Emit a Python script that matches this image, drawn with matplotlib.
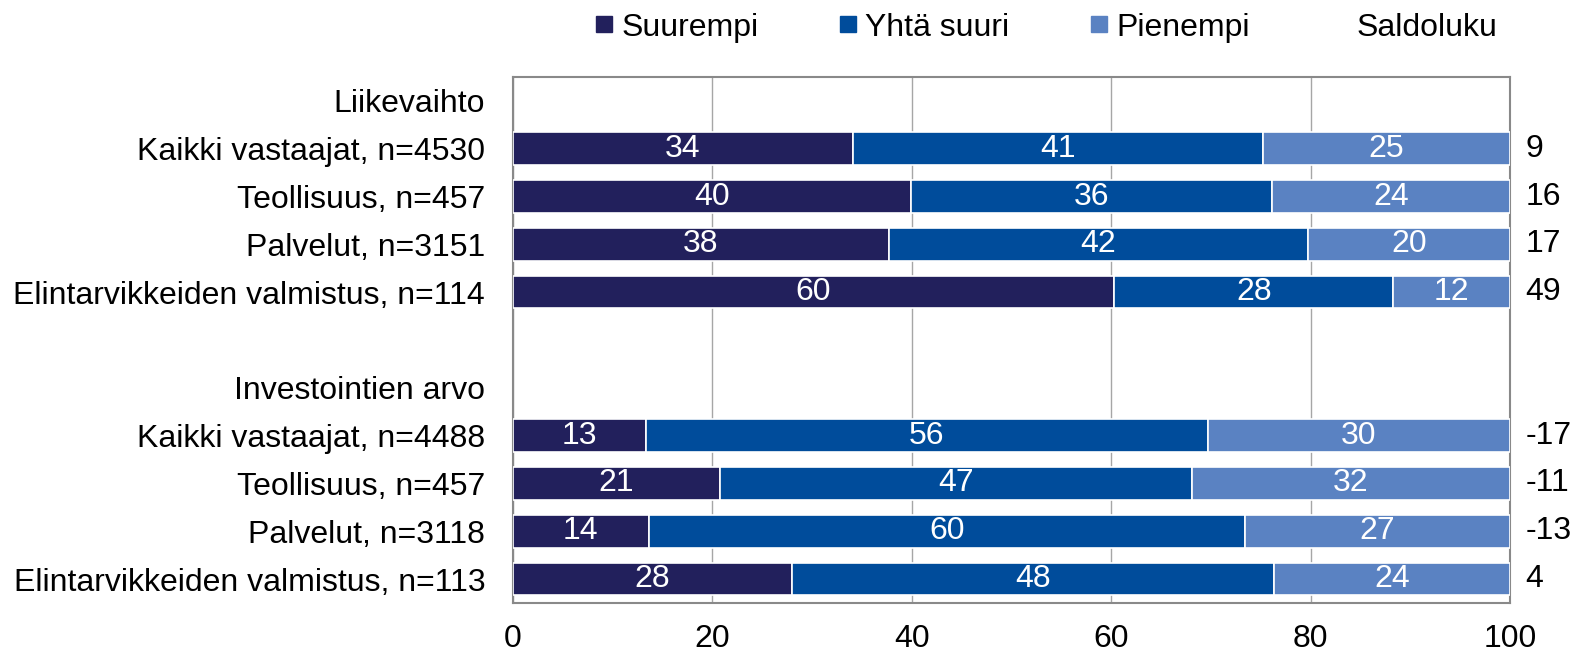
import numpy as np
import matplotlib.pyplot as plt
from matplotlib.lines import Line2D

plt.rcParams['font.family'] = ['Liberation Sans', 'DejaVu Sans']

# Rivit ylhäältä alas (otsikkorivit ja tyhjä väli mukana)
RIVIT = ['Liikevaihto',
         'Kaikki vastaajat, n=4530', 'Teollisuus, n=457', 'Palvelut, n=3151',
         'Elintarvikkeiden valmistus, n=114',
         '',
         'Investointien arvo',
         'Kaikki vastaajat, n=4488', 'Teollisuus, n=457', 'Palvelut, n=3118',
         'Elintarvikkeiden valmistus, n=113']
# Palkkirivien indeksit
PALKKIRIVIT = [1, 2, 3, 4, 7, 8, 9, 10]

SUUREMPI = [34.1, 39.9, 37.7, 60.3, 13.3, 20.8, 13.6, 28.0]
YHTA_SUURI = [41.1, 36.2, 42.0, 28.0, 56.4, 47.3, 59.8, 48.3]
PIENEMPI = [24.8, 23.9, 20.3, 11.7, 30.3, 31.9, 26.6, 23.7]
SALDOLUKU = [9, 16, 17, 49, -17, -11, -13, 4]

SARJAT = ['Suurempi', 'Yhtä suuri', 'Pienempi']
VARIT = ['#22205c', '#004c9b', '#5a82c2']
FS = 23

fig = plt.figure(figsize=(15.74, 6.56), dpi=100)
ax = fig.add_axes([0.3259, 0.0808, 0.6334, 0.8018])

Y = np.array(PALKKIRIVIT)
vasen = np.zeros(len(Y))
for arvot, vari in zip([SUUREMPI, YHTA_SUURI, PIENEMPI], VARIT):
    arvot = np.array(arvot)
    ax.barh(Y, arvot, left=vasen, height=0.68, color=vari,
            edgecolor='white', linewidth=1.2, zorder=3)
    for y, l, v in zip(Y, vasen, arvot):
        ax.text(l + v / 2, y, f'{v:.0f}', ha='center', va='center',
                color='white', fontsize=FS, zorder=4)
    vasen = vasen + arvot

# Saldoluku palkkien oikealle puolelle
for y, s in zip(Y, SALDOLUKU):
    ax.annotate(str(s), xy=(1.0, y), xycoords=('axes fraction', 'data'),
                xytext=(11, 0), textcoords='offset points',
                ha='left', va='center', fontsize=FS)

ax.set_xlim(0, 100)
ax.set_ylim(len(RIVIT) - 0.5, -0.5)
ax.set_xticks([0, 20, 40, 60, 80, 100])
ax.set_yticks(range(len(RIVIT)))
ax.set_yticklabels(RIVIT)
ax.tick_params(axis='y', length=0, pad=20, labelsize=FS)
ax.tick_params(axis='x', length=0, pad=15, labelsize=FS)
ax.grid(axis='x', color='#a6a6a6', linewidth=1, zorder=0)
ax.set_axisbelow(True)
for s in ax.spines.values():
    s.set_color('#898989')
    s.set_linewidth(1.5)

# Selite
kahvat = [Line2D([], [], marker='s', linestyle='none', markersize=11,
                 color=c) for c in VARIT]
kahvat.append(Line2D([], [], linestyle='none'))
fig.legend(kahvat, SARJAT + ['Saldoluku'], loc='center',
           bbox_to_anchor=(0.665, 0.958), ncol=4, frameon=False,
           fontsize=FS, handlelength=0.5, handletextpad=0.3,
           columnspacing=2.55)

fig.savefig('out.png', dpi=100)
